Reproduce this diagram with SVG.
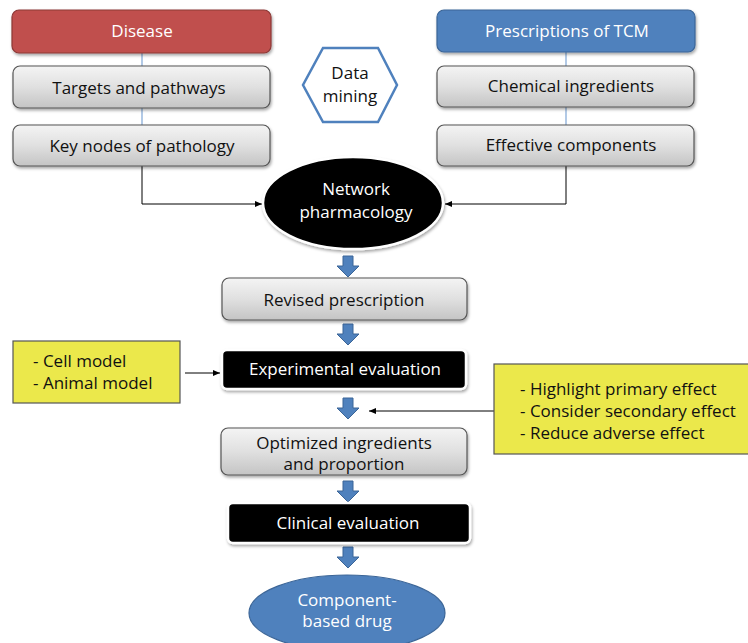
<svg xmlns="http://www.w3.org/2000/svg" width="748" height="643" viewBox="0 0 748 643">
<defs>
<linearGradient id="gray" x1="0" y1="0" x2="0" y2="1">
<stop offset="0" stop-color="#f4f4f4"/>
<stop offset="0.5" stop-color="#e0e0e0"/>
<stop offset="1" stop-color="#c4c4c4"/>
</linearGradient>
<filter id="sh" x="-10%" y="-10%" width="130%" height="140%">
<feDropShadow dx="1" dy="2" stdDeviation="1.5" flood-color="#000" flood-opacity="0.35"/>
</filter>
<marker id="ah" markerWidth="8" markerHeight="8" refX="7" refY="4" orient="auto" markerUnits="userSpaceOnUse">
<path d="M0,1 L7,4 L0,7 Z" fill="#000"/>
</marker>
<path id="barrow" d="M-5,0 L5,0 L5,10 L11,10 L0,21 L-11,10 L-5,10 Z"/>
</defs>
<style>
text{font-family:"Open Sans","Liberation Sans",Arial,sans-serif;font-size:17px;text-anchor:middle;dominant-baseline:central}
.gbox{fill:url(#gray);stroke:#555;stroke-width:1.2}
.dk{fill:#111}
.wt{fill:#fff}
.blk{fill:#000;stroke:#fff;stroke-width:2.5}
.ylw{fill:#ebe84b;stroke:#555;stroke-width:1.2}
.ba{fill:#4f81bd;stroke:#3b6597;stroke-width:1}
.conn{fill:none;stroke:#000;stroke-width:1}
.blue{stroke:#7fa6d6;stroke-width:1.2}
.lt{text-anchor:start}
</style>
<g id="connectors">
<line class="blue" x1="142" y1="53" x2="142" y2="66"/>
<line class="blue" x1="142" y1="108" x2="142" y2="125"/>
<line class="blue" x1="566" y1="52" x2="566" y2="66"/>
<line class="blue" x1="566" y1="107" x2="566" y2="125"/>
<polyline class="conn" points="142,166 142,204 262,204" marker-end="url(#ah)"/>
<polyline class="conn" points="566,166 566,204 445,204" marker-end="url(#ah)"/>
<line class="conn" x1="185" y1="373" x2="220" y2="373" marker-end="url(#ah)"/>
<line class="conn" x1="494" y1="411" x2="369" y2="411" marker-end="url(#ah)"/>
<use href="#barrow" class="ba" x="348" y="256"/>
<use href="#barrow" class="ba" x="348" y="324"/>
<use href="#barrow" class="ba" x="348" y="398"/>
<use href="#barrow" class="ba" x="348" y="481"/>
<use href="#barrow" class="ba" x="348" y="547"/>
</g>
<g id="disease">
<rect x="12" y="10" width="259" height="43" rx="7" fill="#c0504d" stroke="#8c3836" stroke-width="1.2" filter="url(#sh)"/>
<text x="142" y="30" class="wt">Disease</text>
</g>
<g id="targets">
<rect x="13" y="66" width="257" height="42" rx="7" class="gbox" filter="url(#sh)"/>
<text x="139" y="87" class="dk">Targets and pathways</text>
</g>
<g id="keynodes">
<rect x="13" y="125" width="257" height="41" rx="7" class="gbox" filter="url(#sh)"/>
<text x="142" y="145" class="dk">Key nodes of pathology</text>
</g>
<g id="tcm">
<rect x="437" y="10" width="258" height="42" rx="7" fill="#4f81bd" stroke="#3b6597" stroke-width="1.2" filter="url(#sh)"/>
<text x="567" y="30" class="wt">Prescriptions of TCM</text>
</g>
<g id="chemical">
<rect x="437" y="66" width="257" height="41" rx="7" class="gbox" filter="url(#sh)"/>
<text x="571" y="85" class="dk">Chemical ingredients</text>
</g>
<g id="effective">
<rect x="437" y="125" width="257" height="41" rx="7" class="gbox" filter="url(#sh)"/>
<text x="571" y="144" class="dk">Effective components</text>
</g>
<g id="datamining">
<polygon points="323,48 378,48 397,85 378,122 323,122 303,85" fill="#fff" stroke="#4f81bd" stroke-width="2.5"/>
<text x="350" y="72" class="dk">Data</text>
<text x="350" y="95" class="dk">mining</text>
</g>
<g id="network">
<ellipse cx="353" cy="203" rx="90" ry="46" class="blk" filter="url(#sh)"/>
<text x="356" y="188" class="wt">Network</text>
<text x="356" y="211" class="wt">pharmacology</text>
</g>
<g id="revised">
<rect x="222" y="278" width="245" height="42" rx="7" class="gbox" filter="url(#sh)"/>
<text x="344" y="299" class="dk">Revised prescription</text>
</g>
<g id="experimental">
<rect x="222" y="350" width="244" height="39" rx="5" class="blk" filter="url(#sh)"/>
<text x="345" y="368" class="wt">Experimental evaluation</text>
</g>
<g id="models">
<rect x="13" y="341" width="167" height="62" class="ylw"/>
<text x="33" y="360" class="dk lt">- Cell model</text>
<text x="33" y="382" class="dk lt">- Animal model</text>
</g>
<g id="effects">
<rect x="494" y="364" width="260" height="90" class="ylw"/>
<text x="520" y="388" class="dk lt">- Highlight primary effect</text>
<text x="520" y="410" class="dk lt">- Consider secondary effect</text>
<text x="520" y="432" class="dk lt">- Reduce adverse effect</text>
</g>
<g id="optimized">
<rect x="221" y="428" width="246" height="47" rx="7" class="gbox" filter="url(#sh)"/>
<text x="344" y="442" class="dk">Optimized ingredients</text>
<text x="344" y="463" class="dk">and proportion</text>
</g>
<g id="clinical">
<rect x="228" y="503" width="242" height="40" rx="5" class="blk" filter="url(#sh)"/>
<text x="348" y="522" class="wt">Clinical evaluation</text>
</g>
<g id="drug">
<ellipse cx="347" cy="613" rx="98" ry="38" fill="#4f81bd" stroke="#3b6597" stroke-width="1.2"/>
<text x="347" y="599" class="wt">Component-</text>
<text x="347" y="620" class="wt">based drug</text>
</g>
</svg>
